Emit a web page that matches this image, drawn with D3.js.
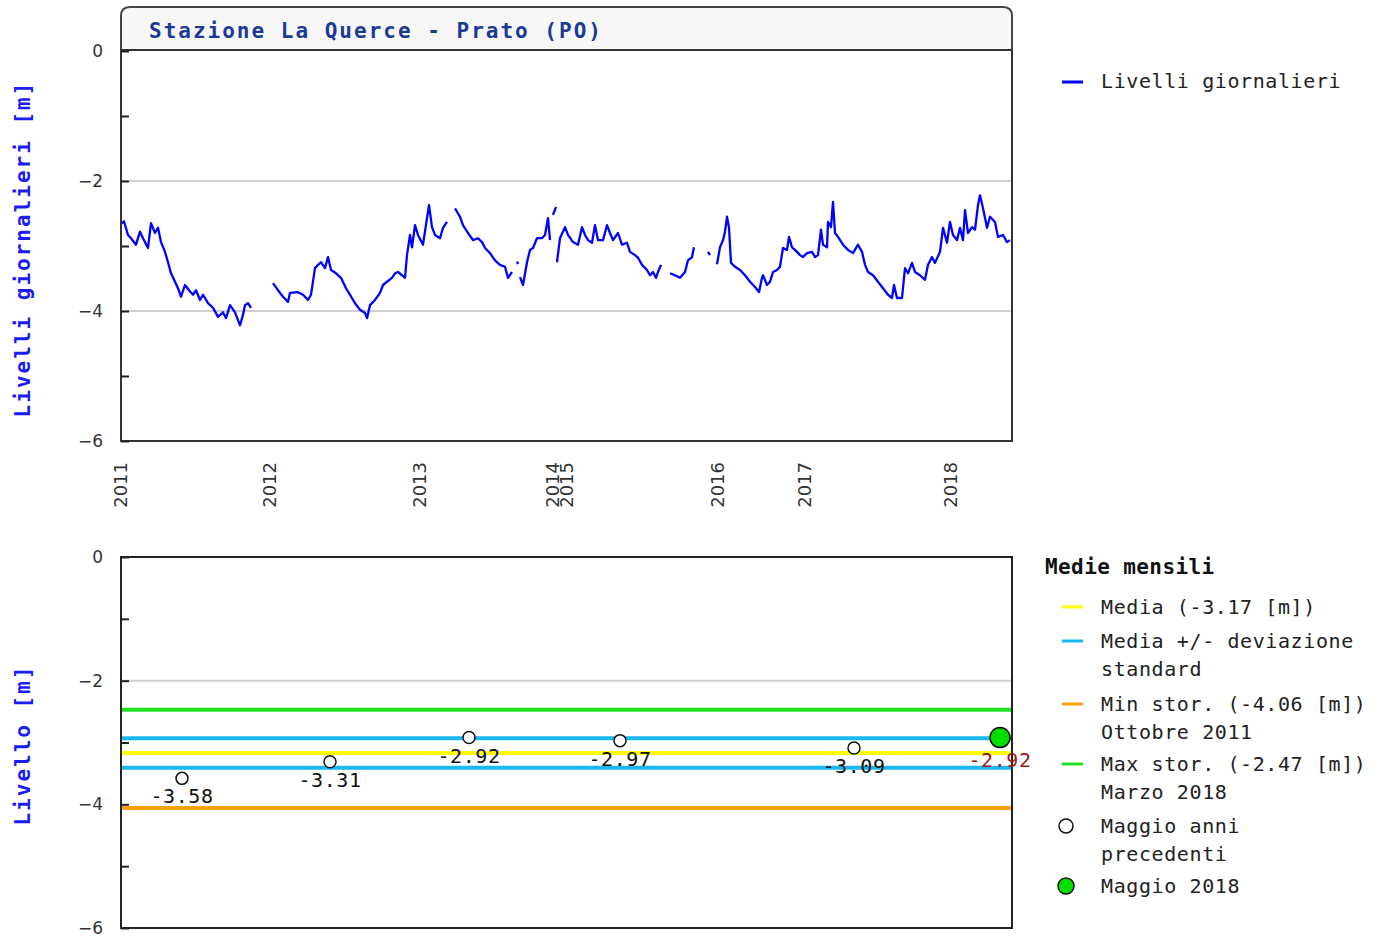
<!DOCTYPE html>
<html lang="it">
<head>
<meta charset="UTF-8">
<title>Stazione La Querce - Prato (PO)</title>
<script src="https://d3js.org/d3.v7.min.js"></script>
<style>
  body { margin: 0; background: #ffffff; }
  svg { display: block; }
  .mono { font-family: "DejaVu Sans Mono", monospace; }
  .tick text { font-family: "DejaVu Sans", sans-serif; font-size: 17px; fill: #333; }
</style>
</head>
<body>
<div id="chart"></div>
<script>
// sample index along the record (gaps where no reading)
const yearTicks = [0, 149, 299, 432, 446, 597, 684, 830];
const yearLabels = ["2011", "2012", "2013", "2014", "2015", "2016", "2017", "2018"];
const sampleMax = 891;

// daily levels [sample, metres]; null = missing
const dailyLevels = [
  [0,-2.66],[3,-2.62],[7,-2.83],[10,-2.88],[15,-2.98],[19,-2.78],[22,-2.88],[27,-3.03],[30,-2.65],[34,-2.80],
  [37,-2.72],[40,-2.94],[44,-3.09],[47,-3.25],[50,-3.42],[54,-3.55],[57,-3.65],[60,-3.78],[64,-3.60],[69,-3.70],
  [72,-3.75],[75,-3.68],[79,-3.83],[82,-3.75],[87,-3.88],[92,-3.95],[97,-4.09],[102,-4.02],[105,-4.11],[109,-3.91],
  [114,-4.02],[119,-4.22],[122,-4.06],[124,-3.91],[127,-3.88],[130,-3.95],
  [141,null],
  [152,-3.57],[157,-3.68],[162,-3.78],[167,-3.86],[169,-3.72],[177,-3.71],[182,-3.75],[187,-3.83],[190,-3.75],[194,-3.34],
  [197,-3.29],[200,-3.25],[204,-3.34],[207,-3.17],[210,-3.37],[215,-3.42],[220,-3.49],[225,-3.65],[229,-3.75],[234,-3.88],
  [239,-3.98],[244,-4.03],[246,-4.11],[249,-3.91],[254,-3.83],[259,-3.72],[262,-3.60],[266,-3.55],[271,-3.49],[274,-3.42],
  [277,-3.40],[281,-3.45],[284,-3.49],[286,-3.14],[289,-2.83],[291,-3.02],[294,-2.68],[297,-2.83],[302,-2.98],[306,-2.57],
  [308,-2.37],[311,-2.71],[314,-2.83],[319,-2.88],[322,-2.72],[326,-2.63],
  [330,null],
  [334,-2.42],[339,-2.55],[342,-2.68],[347,-2.80],[352,-2.91],[357,-2.88],[361,-2.94],[364,-3.03],[369,-3.11],[374,-3.22],
  [379,-3.29],[384,-3.32],[387,-3.49],[391,-3.40],
  [393,null],
  [396,-3.24],[397,-3.28],
  [398,null],
  [399,-3.48],[402,-3.60],[406,-3.25],[409,-3.06],[412,-3.03],[416,-2.88],[421,-2.88],[424,-2.83],[427,-2.57],[429,-2.91],
  [430,null],
  [432,-2.52],[435,-2.40],
  [435.5,null],
  [436,-3.25],[439,-2.88],[444,-2.71],[447,-2.83],[452,-2.94],[457,-2.98],[461,-2.71],[464,-2.83],[467,-2.91],[471,-2.95],
  [474,-2.68],[477,-2.91],[482,-2.91],[486,-2.68],[489,-2.80],[492,-2.91],[497,-2.80],[501,-2.98],[506,-2.95],[509,-3.09],
  [514,-3.14],[517,-3.18],[521,-3.29],[526,-3.37],[529,-3.45],[532,-3.40],[535,-3.49],[537,-3.40],[540,-3.29],
  [545,null],
  [549,-3.42],[554,-3.45],[559,-3.49],[564,-3.40],[567,-3.22],[571,-3.17],[573,-3.02],
  [580,null],
  [587,-3.09],[589,-3.14],
  [592,null],
  [596,-3.28],[599,-3.02],[602,-2.91],[604,-2.78],[606,-2.55],[608,-2.72],[610,-3.26],[614,-3.32],[619,-3.37],[624,-3.45],
  [629,-3.55],[634,-3.63],[638,-3.71],[641,-3.49],[642,-3.45],[646,-3.60],[649,-3.55],[652,-3.40],[656,-3.37],[659,-3.32],
  [662,-3.03],[666,-3.06],[668,-2.86],[671,-3.02],[674,-3.06],[679,-3.14],[682,-3.17],[686,-3.11],[691,-3.09],[694,-3.17],
  [697,-3.14],[700,-2.75],[702,-2.98],[706,-3.02],[707,-2.63],[710,-2.71],[712,-2.32],[714,-2.80],[717,-2.86],[722,-2.98],
  [727,-3.06],[732,-3.11],[737,-2.98],[741,-3.09],[744,-3.29],[747,-3.40],[752,-3.45],[757,-3.55],[762,-3.65],[767,-3.75],
  [771,-3.80],[773,-3.60],[776,-3.80],[781,-3.80],[784,-3.34],[787,-3.42],[791,-3.26],[794,-3.40],[799,-3.45],[804,-3.52],
  [807,-3.29],[811,-3.17],[814,-3.26],[819,-3.09],[822,-2.72],[826,-2.95],[829,-2.63],[832,-2.83],[836,-2.91],[839,-2.72],
  [842,-2.91],[844,-2.45],[847,-2.80],[851,-2.71],[854,-2.75],[857,-2.37],[859,-2.22],[862,-2.42],[866,-2.72],[869,-2.55],
  [874,-2.63],[877,-2.86],[882,-2.83],[886,-2.94],[889,-2.91]
];

// monthly statistics (May)
const mediaMensile = -3.17;
const devStandard = 0.24;
const minStorico = -4.06;
const maxStorico = -2.47;
const maggioSamples = [61, 209, 348, 499, 733];
const maggioValues = [-3.58, -3.31, -2.92, -2.97, -3.09];
const maggioCorrenteSample = 879;
const maggioCorrente = -2.92;

const W = 1381, H = 942;
const svg = d3.select("#chart").append("svg").attr("width", W).attr("height", H);

const x = d3.scaleLinear().domain([0, sampleMax]).range([121, 1012]);
const yTop = d3.scaleLinear().domain([0, -6]).range([51, 441]);
const yBot = d3.scaleLinear().domain([0, -6]).range([557, 928]);
const yTicks = [0, -1, -2, -3, -4, -5, -6];

function yAxis(g, scale) {
  g.call(d3.axisLeft(scale).tickValues(yTicks).tickSize(-8).tickPadding(18)
      .tickFormat(d => d % 2 === 0 ? d3.format("d")(d) : ""));
  g.select(".domain").remove();
  g.selectAll(".tick line").attr("stroke", "#222").attr("stroke-width", 2);
}

// ---------- top panel ----------
// title box with rounded top corners
const tx0 = 121, tx1 = 1012, ty0 = 7, ty1 = 50, r = 9;
svg.append("path")
  .attr("d", `M${tx0},${ty1} V${ty0 + r} Q${tx0},${ty0} ${tx0 + r},${ty0} H${tx1 - r} Q${tx1},${ty0} ${tx1},${ty0 + r} V${ty1} Z`)
  .attr("fill", "#f7f7f7").attr("stroke", "#444").attr("stroke-width", 2);
svg.append("text").attr("class", "mono")
  .attr("x", 149).attr("y", 38)
  .attr("font-size", 21).attr("font-weight", "bold").attr("letter-spacing", 2)
  .attr("fill", "#1a3a96")
  .text("Stazione La Querce - Prato (PO)");

svg.append("g").selectAll("line").data([-2, -4]).join("line")
  .attr("x1", x(0)).attr("x2", x(sampleMax))
  .attr("y1", d => yTop(d)).attr("y2", d => yTop(d))
  .attr("stroke", "#cfcfcf").attr("stroke-width", 2);

const line = d3.line()
  .defined(d => d[1] !== null)
  .x(d => x(d[0])).y(d => yTop(d[1]));
svg.append("path").datum(dailyLevels)
  .attr("d", line).attr("fill", "none")
  .attr("stroke", "#0000ff").attr("stroke-width", 2.3).attr("stroke-linejoin", "round");

svg.append("rect").attr("x", 121).attr("y", 50).attr("width", 891).attr("height", 391)
  .attr("fill", "none").attr("stroke", "#333").attr("stroke-width", 2);

svg.append("g").attr("transform", "translate(121,0)").call(g => yAxis(g, yTop));

// x axis: year labels, rotated
svg.append("g").selectAll("text").data(yearTicks).join("text")
  .attr("transform", d => `translate(${x(d) + 6},462) rotate(-90)`)
  .attr("text-anchor", "end")
  .attr("font-family", "DejaVu Sans, sans-serif").attr("font-size", 18).attr("fill", "#333")
  .text((d, i) => yearLabels[i]);

svg.append("text").attr("class", "mono")
  .attr("transform", "translate(30,249) rotate(-90)")
  .attr("text-anchor", "middle").attr("font-size", 21).attr("font-weight", "bold")
  .attr("letter-spacing", 2).attr("fill", "#1c1cf0")
  .text("Livelli giornalieri [m]");

// top legend
svg.append("line").attr("x1", 1062).attr("x2", 1083).attr("y1", 82).attr("y2", 82)
  .attr("stroke", "#0000ff").attr("stroke-width", 3);
svg.append("text").attr("class", "mono").attr("x", 1101).attr("y", 88)
  .attr("font-size", 20).attr("letter-spacing", 0.6).attr("fill", "#222")
  .text("Livelli giornalieri");

// ---------- bottom panel ----------
svg.append("line")
  .attr("x1", x(0)).attr("x2", x(sampleMax)).attr("y1", yBot(-2)).attr("y2", yBot(-2))
  .attr("stroke", "#cfcfcf").attr("stroke-width", 2);

const refLines = [
  { v: maxStorico, c: "#22e022" },
  { v: mediaMensile + devStandard, c: "#1ab8f0" },
  { v: mediaMensile, c: "#ffff00" },
  { v: mediaMensile - devStandard, c: "#1ab8f0" },
  { v: minStorico, c: "#ffa010" }
];
svg.append("g").selectAll("line").data(refLines).join("line")
  .attr("x1", x(0)).attr("x2", x(sampleMax))
  .attr("y1", d => yBot(d.v)).attr("y2", d => yBot(d.v))
  .attr("stroke", d => d.c).attr("stroke-width", 4);

const pts = maggioSamples.map((s, i) => ({ s, v: maggioValues[i] }));
svg.append("g").selectAll("circle").data(pts).join("circle")
  .attr("cx", d => x(d.s)).attr("cy", d => yBot(d.v)).attr("r", 6)
  .attr("fill", "#fff").attr("stroke", "#111").attr("stroke-width", 1.5);
svg.append("g").selectAll("text").data(pts).join("text")
  .attr("class", "mono")
  .attr("x", d => x(d.s)).attr("y", d => yBot(d.v) + 25)
  .attr("text-anchor", "middle").attr("font-size", 20).attr("letter-spacing", 0.6).attr("fill", "#111")
  .text(d => d.v.toFixed(2));

svg.append("rect").attr("x", 121).attr("y", 557).attr("width", 891).attr("height", 371)
  .attr("fill", "none").attr("stroke", "#222").attr("stroke-width", 2);

svg.append("circle")
  .attr("cx", x(maggioCorrenteSample)).attr("cy", yBot(maggioCorrente)).attr("r", 10)
  .attr("fill", "#00e000").attr("stroke", "#111").attr("stroke-width", 1.5);
svg.append("text").attr("class", "mono")
  .attr("x", x(maggioCorrenteSample)).attr("y", yBot(maggioCorrente) + 29)
  .attr("text-anchor", "middle").attr("font-size", 20).attr("letter-spacing", 0.6).attr("fill", "#a01818")
  .text(maggioCorrente.toFixed(2));

svg.append("g").attr("transform", "translate(121,0)").call(g => yAxis(g, yBot));

svg.append("text").attr("class", "mono")
  .attr("transform", "translate(30,745) rotate(-90)")
  .attr("text-anchor", "middle").attr("font-size", 21).attr("font-weight", "bold")
  .attr("letter-spacing", 2).attr("fill", "#1c1cf0")
  .text("Livello [m]");

// bottom legend
svg.append("text").attr("class", "mono").attr("x", 1045).attr("y", 574)
  .attr("font-size", 21).attr("font-weight", "bold").attr("letter-spacing", 0.4).attr("fill", "#111")
  .text("Medie mensili");

const legendItems = [
  { type: "line", c: "#ffff00", y: 607, lines: ["Media (" + mediaMensile.toFixed(2) + " [m])"] },
  { type: "line", c: "#1ab8f0", y: 641, lines: ["Media +/- deviazione", "standard"] },
  { type: "line", c: "#ffa010", y: 704, lines: ["Min stor. (" + minStorico.toFixed(2) + " [m])", "Ottobre 2011"] },
  { type: "line", c: "#22e022", y: 764, lines: ["Max stor. (" + maxStorico.toFixed(2) + " [m])", "Marzo 2018"] },
  { type: "open", c: "#fff", y: 826, lines: ["Maggio anni", "precedenti"] },
  { type: "dot", c: "#00e000", y: 886, lines: ["Maggio 2018"] }
];
const lg = svg.append("g");
legendItems.forEach(it => {
  if (it.type === "line") {
    lg.append("line").attr("x1", 1062).attr("x2", 1083).attr("y1", it.y).attr("y2", it.y)
      .attr("stroke", it.c).attr("stroke-width", 3);
  } else {
    lg.append("circle").attr("cx", 1066).attr("cy", it.y).attr("r", it.type === "dot" ? 8 : 7)
      .attr("fill", it.c).attr("stroke", "#111").attr("stroke-width", 1.5);
  }
  it.lines.forEach((t, j) => {
    lg.append("text").attr("class", "mono").attr("x", 1101).attr("y", it.y + 7 + j * 28)
      .attr("font-size", 20).attr("letter-spacing", 0.6).attr("fill", "#222").text(t);
  });
});
</script>
</body>
</html>
